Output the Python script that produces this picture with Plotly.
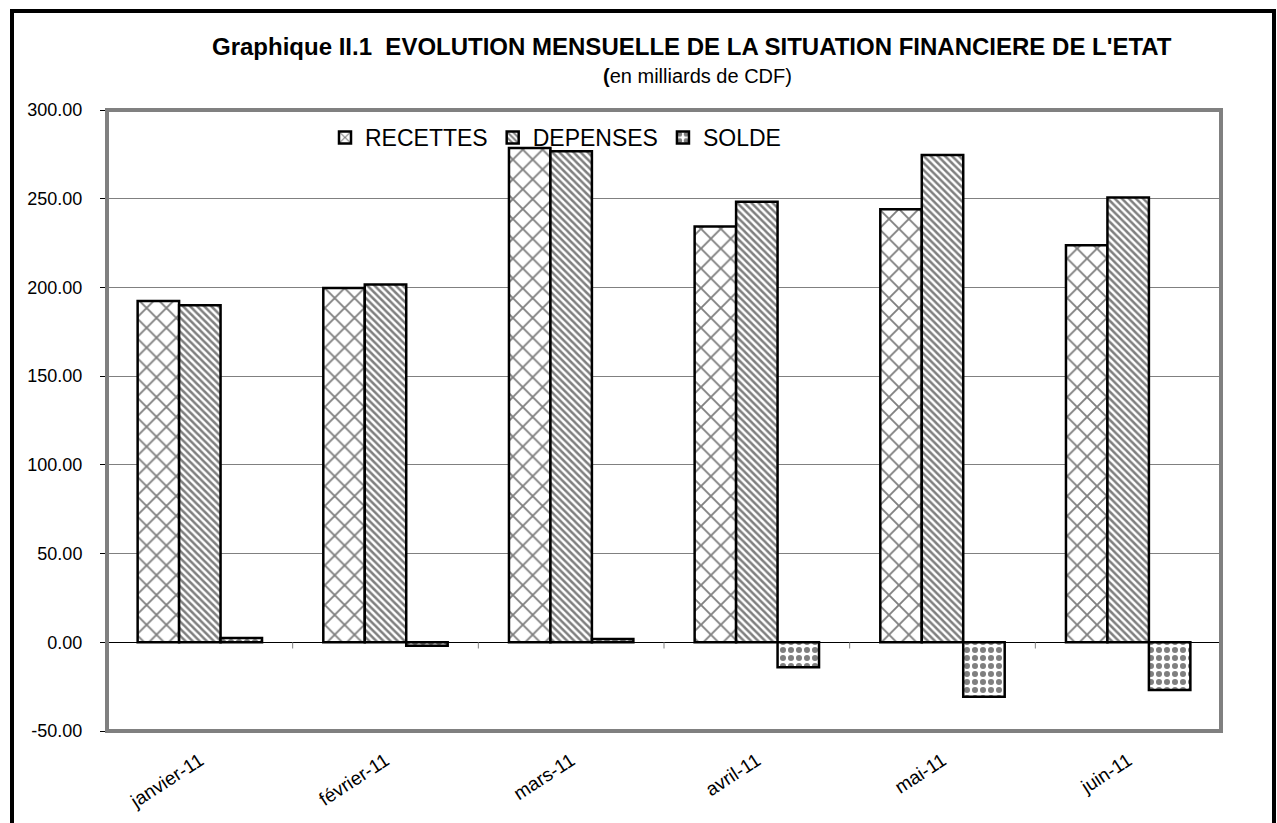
import plotly.graph_objects as go

categories = ["janvier-11", "février-11", "mars-11", "avril-11", "mai-11", "juin-11"]
recettes = [192.4, 199.7, 278.6, 234.3, 244.0, 223.8]
depenses = [190.0, 201.6, 276.7, 248.3, 274.7, 250.7]
solde = [2.4, -1.9, 1.9, -14.0, -30.7, -26.9]
y_ticks = [-50, 0, 50, 100, 150, 200, 250, 300]
y_tick_labels = ["-50.00", "0.00", "50.00", "100.00", "150.00", "200.00", "250.00", "300.00"]

W, H = 1277, 823
L, R, T, B = 107, 56, 110, 92
pw, ph = W - L - R, H - T - B

def fx(px):
    return (px - L) / pw

def fy(py):
    return (H - B - py) / ph

FONT = "Liberation Sans, Arial, sans-serif"

fig = go.Figure()
series = [
    ("RECETTES", recettes, dict(shape="x", size=14, solidity=0.25)),
    ("DEPENSES", depenses, dict(shape="\\", size=5, solidity=0.5)),
    ("SOLDE", solde, dict(shape=".", size=8, solidity=0.45)),
]
for name, vals, pat in series:
    fig.add_trace(go.Bar(
        name=name, x=categories, y=vals,
        marker=dict(
            color="white",
            line=dict(color="black", width=2.5),
            pattern=dict(fillmode="overlay", bgcolor="white", fgcolor="black", **pat),
        ),
    ))

shapes = []
# category boundary ticks under the zero line
for i in range(len(categories)):
    shapes.append(dict(type="line", xref="x", yref="y", x0=i + 0.5, x1=i + 0.5,
                       y0=0, y1=-3.5, line=dict(color="#808080", width=1), layer="above"))
# plot area border
shapes.append(dict(type="rect", xref="paper", yref="paper", x0=0, x1=1, y0=0, y1=1,
                   line=dict(color="#808080", width=4), layer="above"))
# outer frame
shapes.append(dict(type="rect", xref="paper", yref="paper",
                   x0=fx(12), x1=fx(1274), y0=fy(840), y1=fy(11),
                   line=dict(color="black", width=4), layer="above"))

fig.update_layout(
    width=W, height=H,
    margin=dict(l=L, r=R, t=T, b=B, autoexpand=False),
    paper_bgcolor="white", plot_bgcolor="white",
    barmode="group", bargap=0.33, bargroupgap=0,
    font=dict(family=FONT, color="black", size=18),
    showlegend=True,
    legend=dict(orientation="h", x=fx(325), xanchor="left", y=fy(116), yanchor="top",
                font=dict(size=23, family=FONT), bgcolor="rgba(0,0,0,0)",
                itemwidth=30, traceorder="normal"),
    shapes=shapes,
    annotations=[
        dict(text="<b>Graphique II.1  EVOLUTION MENSUELLE DE LA SITUATION FINANCIERE DE L'ETAT</b>",
             xref="paper", yref="paper", x=fx(692), y=fy(47), xanchor="center", yanchor="middle",
             showarrow=False, font=dict(size=24, family=FONT)),
        dict(text="<b>(</b>en milliards de CDF)",
             xref="paper", yref="paper", x=fx(697), y=fy(76), xanchor="center", yanchor="middle",
             showarrow=False, font=dict(size=20, family=FONT)),
    ],
)
fig.update_xaxes(
    type="category", categoryorder="array", categoryarray=categories,
    range=[-0.5, len(categories) - 0.5],
    showgrid=False, showline=False, ticks="", tickangle=-33,
    tickfont=dict(size=19, family=FONT), ticklabelstandoff=14,
)
fig.update_yaxes(
    range=[-50, 300], tickmode="array", tickvals=y_ticks, ticktext=y_tick_labels,
    showgrid=True, gridcolor="#808080", gridwidth=1,
    zeroline=True, zerolinecolor="black", zerolinewidth=1,
    showline=False, ticks="outside", ticklen=6, tickcolor="black",
    tickfont=dict(size=18, family=FONT), ticklabelstandoff=14,
)
fig.write_html("out.html", config={"displayModeBar": False},
               post_script="document.body.style.margin='0';document.body.style.padding='0';")
